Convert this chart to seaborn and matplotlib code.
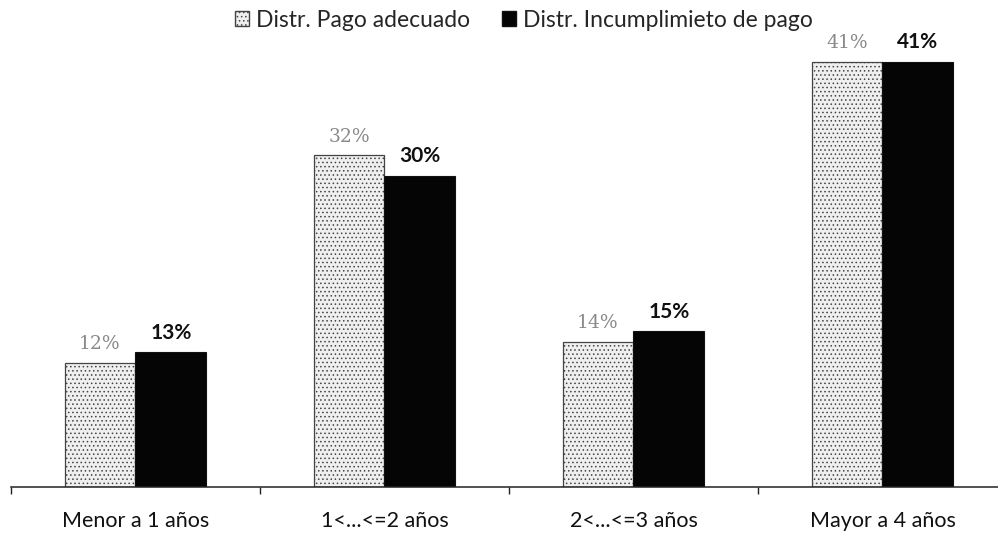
import matplotlib
matplotlib.use("Agg")
import matplotlib.pyplot as plt
from matplotlib.patches import Patch
import seaborn as sns
import pandas as pd

categories = ["Menor a 1 años", "1<...<=2 años", "2<...<=3 años", "Mayor a 4 años"]
series_names = ["Distr. Pago adecuado", "Distr. Incumplimieto de pago"]
pago_adecuado = [0.12, 0.32, 0.14, 0.41]
incumplimiento = [0.13, 0.30, 0.15, 0.41]

df = pd.DataFrame({
    "categoria": categories * 2,
    "serie": [series_names[0]] * 4 + [series_names[1]] * 4,
    "valor": pago_adecuado + incumplimiento,
})

sns.set_theme(style="white")
plt.rcParams["font.family"] = ["Lato", "DejaVu Sans"]
plt.rcParams["hatch.color"] = "#9a9a9a"
plt.rcParams["hatch.linewidth"] = 0.6

fig = plt.figure(figsize=(9.98, 5.39), dpi=100)
ax = fig.add_axes([0.011, 0.0965, 0.998, 0.866])

light = "#efefef"
dark = "#050505"
sns.barplot(data=df, x="categoria", y="valor", hue="serie", order=categories,
            hue_order=series_names, palette=[light, dark], width=0.57,
            gap=0, dodge=True, legend=False, ax=ax, saturation=1)

# speckled light bars, solid dark bars
light_bars = ax.patches[:4]
dark_bars = ax.patches[4:8]
for b in light_bars:
    b.set_edgecolor("#444444")
    b.set_linewidth(0.9)
    b.set_hatch("....")
for b in dark_bars:
    b.set_edgecolor("#111111")
    b.set_linewidth(0.8)

for b, v in zip(light_bars, pago_adecuado):
    ax.text(b.get_x() + b.get_width() / 2, v + 0.009, f"{round(v * 100):d}%",
            ha="center", va="bottom", fontsize=13.5, color="#8a8a8a",
            family=["DejaVu Serif"])
for b, v in zip(dark_bars, incumplimiento):
    ax.text(b.get_x() + b.get_width() / 2, v + 0.009, f"{round(v * 100):d}%",
            ha="center", va="bottom", fontsize=15, color="#111111",
            fontweight="bold")

ax.set_xlim(-0.5, 3.5)
ax.set_ylim(0, 0.45)
ax.set_xlabel("")
ax.set_ylabel("")
ax.set_yticks([])
for side in ["top", "right", "left"]:
    ax.spines[side].set_visible(False)
ax.spines["bottom"].set_color("#222222")
ax.spines["bottom"].set_linewidth(1.1)

ax.set_xticks(range(4))
ax.set_xticklabels(categories, fontsize=15.5, color="#111111")
ax.tick_params(axis="x", which="major", length=0, pad=17)
ax.set_xticks([-0.5, 0.5, 1.5, 2.5, 3.5], minor=True)
ax.tick_params(axis="x", which="minor", length=5, width=1, color="#222222",
               direction="out", bottom=True)

handles = [Patch(facecolor=light, edgecolor="#444444", hatch="....", label=series_names[0]),
           Patch(facecolor=dark, edgecolor="#111111", label=series_names[1])]
fig.legend(handles=handles, loc="upper center", bbox_to_anchor=(0.525, 1.02),
           ncol=2, frameon=False, fontsize=16.5, handlelength=0.6,
           handleheight=0.6, handletextpad=0.3, columnspacing=1.4)

fig.savefig("out.png", dpi=100)
